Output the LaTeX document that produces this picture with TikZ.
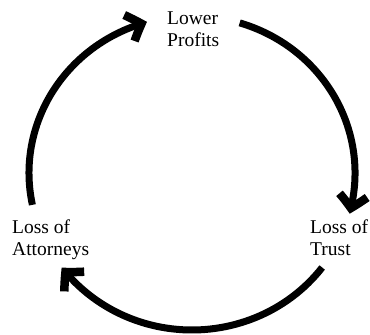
\documentclass[tikz,border=0pt]{standalone}
\usepackage{fontspec}
\setmainfont{Liberation Serif}
\usetikzlibrary{arrows.meta,bending}
\begin{document}
\begin{tikzpicture}[x=1pt,y=1pt,
  cyc/.style={line width=7pt,-{Straight Barb[length=13pt,width=28pt,line width=8.5pt,bend]}},
  lbl/.style={font=\fontsize{19.5}{22}\selectfont,align=left,anchor=base west,inner sep=0pt}]
\useasboundingbox (0,0) rectangle (370,-335);
\clip (0,0) rectangle (370,-335);
\node[lbl] (lp) at (167,-46) {Lower\\Profits};
\node[lbl] (lt) at (310,-255) {Loss of\\Trust};
\node[lbl] (la) at (12,-255) {Loss of\\Attorneys};
\coordinate (c) at (192,-173);
\draw[cyc] (c) ++(191.7:163 and 157) arc[start angle=191.7,end angle=106,x radius=163,y radius=157];
\draw[cyc] (c) ++(73:163 and 157) arc[start angle=73,end angle=-15,x radius=163,y radius=157];
\draw[cyc] (c) ++(-37:163 and 157) arc[start angle=-37,end angle=-143,x radius=163,y radius=157];
\end{tikzpicture}
\end{document}
